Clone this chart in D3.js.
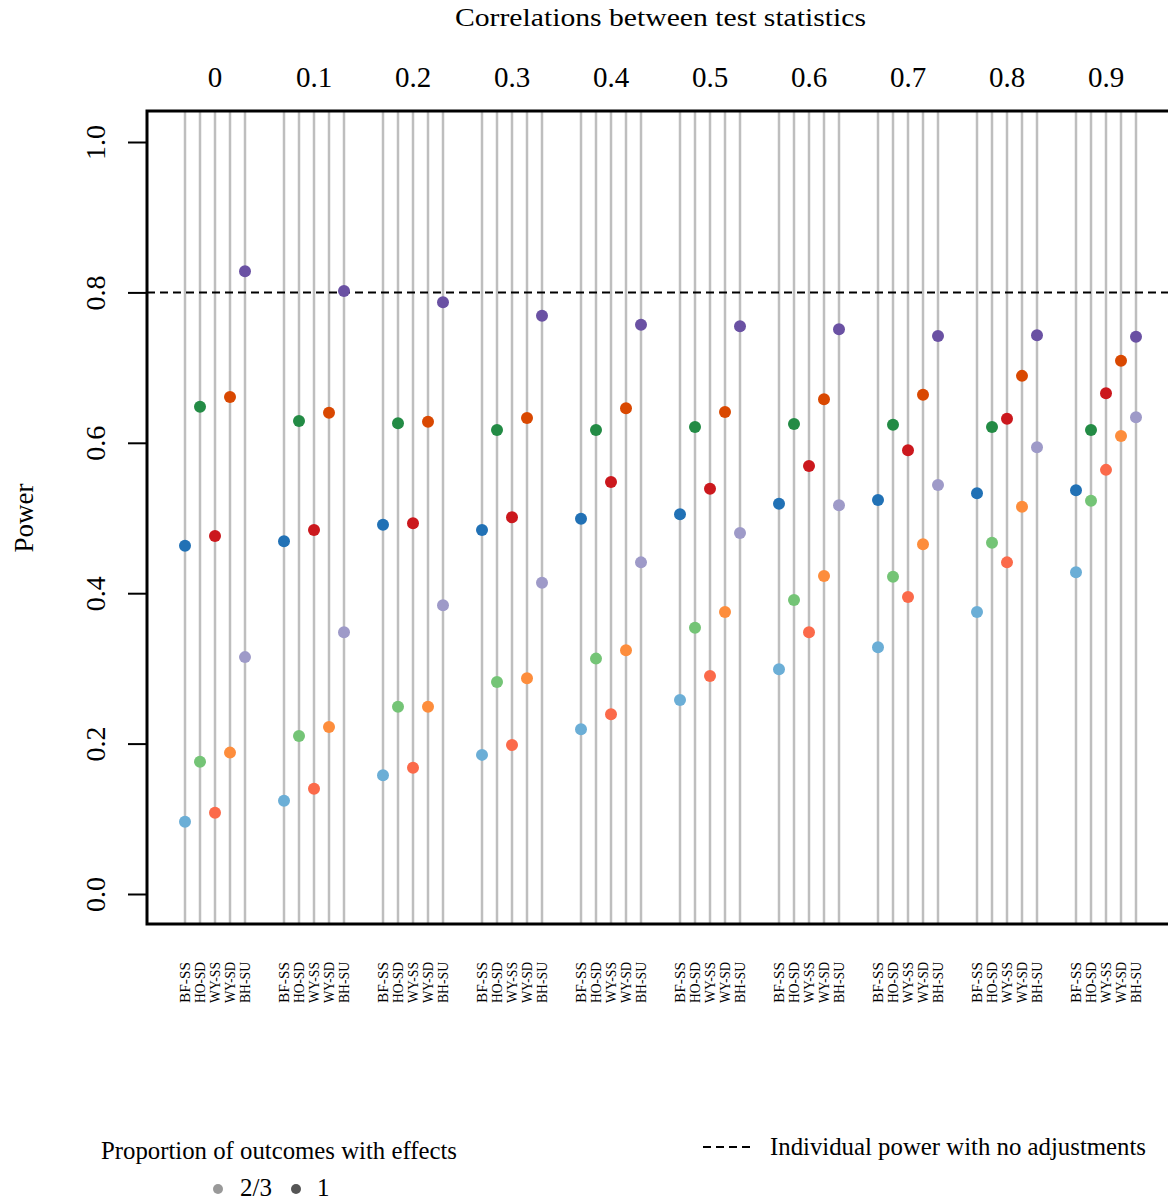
<!DOCTYPE html>
<html>
<head>
<meta charset="utf-8">
<script src="https://cdn.jsdelivr.net/npm/d3@7"></script>
<style>
  body { margin: 0; background: #fff; }
  svg { display: block; font-family: "Liberation Serif", "Times New Roman", serif; }
  svg text { font-family: "Liberation Serif", "Times New Roman", serif; }
</style>
</head>
<body>
<svg width="1168" height="1200"></svg>
<script>
// correlation between test statistics (one column group each)
var correlations = ["0", "0.1", "0.2", "0.3", "0.4", "0.5", "0.6", "0.7", "0.8", "0.9"]
var methods = ["BF-SS", "HO-SD", "WY-SS", "WY-SD", "BH-SU"]
var yTicks = [0, 0.2, 0.4, 0.6, 0.8, 1.0]
var individualPower = 0.8

// power, proportion of outcomes with effects = 1 (rows = methods, cols = correlations)
var powerAll = {
  "BF-SS": [0.463, 0.469, 0.491, 0.484, 0.499, 0.505, 0.519, 0.524, 0.533, 0.537],
  "HO-SD": [0.648, 0.629, 0.626, 0.617, 0.617, 0.621, 0.625, 0.624, 0.621, 0.617],
  "WY-SS": [0.476, 0.484, 0.493, 0.501, 0.548, 0.539, 0.569, 0.590, 0.632, 0.666],
  "WY-SD": [0.661, 0.640, 0.628, 0.633, 0.646, 0.641, 0.658, 0.664, 0.689, 0.709],
  "BH-SU": [0.828, 0.802, 0.787, 0.769, 0.757, 0.755, 0.751, 0.742, 0.743, 0.741]
}
// power, proportion of outcomes with effects = 2/3
var powerTwoThirds = {
  "BF-SS": [0.096, 0.124, 0.158, 0.185, 0.219, 0.258, 0.299, 0.328, 0.375, 0.428],
  "HO-SD": [0.176, 0.210, 0.249, 0.282, 0.313, 0.354, 0.391, 0.422, 0.467, 0.523],
  "WY-SS": [0.108, 0.140, 0.168, 0.198, 0.239, 0.290, 0.348, 0.395, 0.441, 0.564],
  "WY-SD": [0.188, 0.222, 0.249, 0.287, 0.324, 0.375, 0.423, 0.465, 0.515, 0.609],
  "BH-SU": [0.315, 0.348, 0.384, 0.414, 0.441, 0.480, 0.517, 0.544, 0.594, 0.634]
}
var darkColors = {"BF-SS": "#2171b5", "HO-SD": "#238b45", "WY-SS": "#cb181d", "WY-SD": "#d94801", "BH-SU": "#6a51a3"}
var lightColors = {"BF-SS": "#6baed6", "HO-SD": "#74c476", "WY-SS": "#fb6a4a", "WY-SD": "#fd8d3c", "BH-SU": "#9e9ac8"}

var svg = d3.select("svg")
var box = {left: 147, right: 1172, top: 111, bottom: 924}

var x = d3.scalePoint()
  .domain(correlations)
  .range([215, 1106])
var xm = d3.scalePoint()
  .domain(methods)
  .range([-30, 30])
var y = d3.scaleLinear()
  .domain([0, 1])
  .range([894, 142])

// flatten to points
var points = []
correlations.forEach((c, i) => {
  methods.forEach(m => {
    points.push({c: c, m: m, prop: "2/3", v: powerTwoThirds[m][i]})
    points.push({c: c, m: m, prop: "1", v: powerAll[m][i]})
  })
})

// grey vertical guide lines
var guides = []
correlations.forEach(c => methods.forEach(m => guides.push({c: c, m: m})))
svg.append("g")
  .selectAll("line")
  .data(guides)
  .enter()
  .append("line")
    .attr("x1", d => x(d.c) + xm(d.m))
    .attr("x2", d => x(d.c) + xm(d.m))
    .attr("y1", box.top)
    .attr("y2", box.bottom)
    .attr("stroke", "#bebebe")
    .attr("stroke-width", 2.5)

// dashed reference line
svg.append("line")
  .attr("x1", box.left)
  .attr("x2", box.right)
  .attr("y1", y(individualPower))
  .attr("y2", y(individualPower))
  .attr("stroke", "#000")
  .attr("stroke-width", 2)
  .attr("stroke-dasharray", "8,5")

// points
svg.append("g")
  .selectAll("circle")
  .data(points)
  .enter()
  .append("circle")
    .attr("cx", d => x(d.c) + xm(d.m))
    .attr("cy", d => y(d.v))
    .attr("r", 6)
    .attr("fill", d => d.prop == "1" ? darkColors[d.m] : lightColors[d.m])

// box
svg.append("rect")
  .attr("x", box.left)
  .attr("y", box.top)
  .attr("width", box.right - box.left)
  .attr("height", box.bottom - box.top)
  .attr("fill", "none")
  .attr("stroke", "#000")
  .attr("stroke-width", 3)

// y axis
var yAxis = svg.append("g")
  .attr("transform", `translate(${box.left},0)`)
  .call(d3.axisLeft(y).tickValues(yTicks).tickSize(19).tickFormat(d3.format(".1f")))
yAxis.attr("font-family", null)
yAxis.select(".domain").remove()
yAxis.selectAll(".tick line").attr("stroke-width", 2)
yAxis.selectAll(".tick text")
  .attr("font-size", 28)
  .attr("fill", "#000")
  .attr("text-anchor", "middle")
  .attr("transform", "translate(-52,0) rotate(-90)")
  .attr("x", 0)
  .attr("dy", "0.35em")

svg.append("text")
  .attr("transform", "translate(33,518) rotate(-90)")
  .attr("text-anchor", "middle")
  .attr("font-size", 27)
  .text("Power")

// top labels
svg.append("text")
  .attr("x", 455)
  .attr("y", 26)
  .attr("font-size", 25)
  .attr("textLength", 411)
  .attr("lengthAdjust", "spacingAndGlyphs")
  .text("Correlations between test statistics")
svg.append("g")
  .selectAll("text")
  .data(correlations)
  .enter()
  .append("text")
    .attr("x", d => x(d))
    .attr("y", 87)
    .attr("text-anchor", "middle")
    .attr("font-size", 29)
    .text(d => d)

// method labels under the box
svg.append("g")
  .selectAll("text")
  .data(guides)
  .enter()
  .append("text")
    .attr("transform", d => `translate(${x(d.c) + xm(d.m) + 5},962) rotate(-90)`)
    .attr("text-anchor", "end")
    .attr("font-size", 14)
    .attr("textLength", 41)
    .attr("lengthAdjust", "spacingAndGlyphs")
    .text(d => d.m)

// legend: proportion
svg.append("text")
  .attr("x", 101)
  .attr("y", 1159)
  .attr("font-size", 25)
  .attr("textLength", 356)
  .attr("lengthAdjust", "spacingAndGlyphs")
  .text("Proportion of outcomes with effects")
var propLegend = [{label: "2/3", color: "#999999", cx: 218, tx: 240}, {label: "1", color: "#555555", cx: 296, tx: 317}]
var pl = svg.append("g").selectAll("g").data(propLegend).enter().append("g")
pl.append("circle")
  .attr("cx", d => d.cx)
  .attr("cy", 1189)
  .attr("r", 5)
  .attr("fill", d => d.color)
pl.append("text")
  .attr("x", d => d.tx)
  .attr("y", 1196)
  .attr("font-size", 25)
  .text(d => d.label)

// legend: dashed line
svg.append("line")
  .attr("x1", 703)
  .attr("x2", 752)
  .attr("y1", 1147)
  .attr("y2", 1147)
  .attr("stroke", "#000")
  .attr("stroke-width", 2)
  .attr("stroke-dasharray", "8,5")
svg.append("text")
  .attr("x", 770)
  .attr("y", 1155)
  .attr("font-size", 25)
  .attr("textLength", 376)
  .attr("lengthAdjust", "spacingAndGlyphs")
  .text("Individual power with no adjustments")
</script>
</body>
</html>
